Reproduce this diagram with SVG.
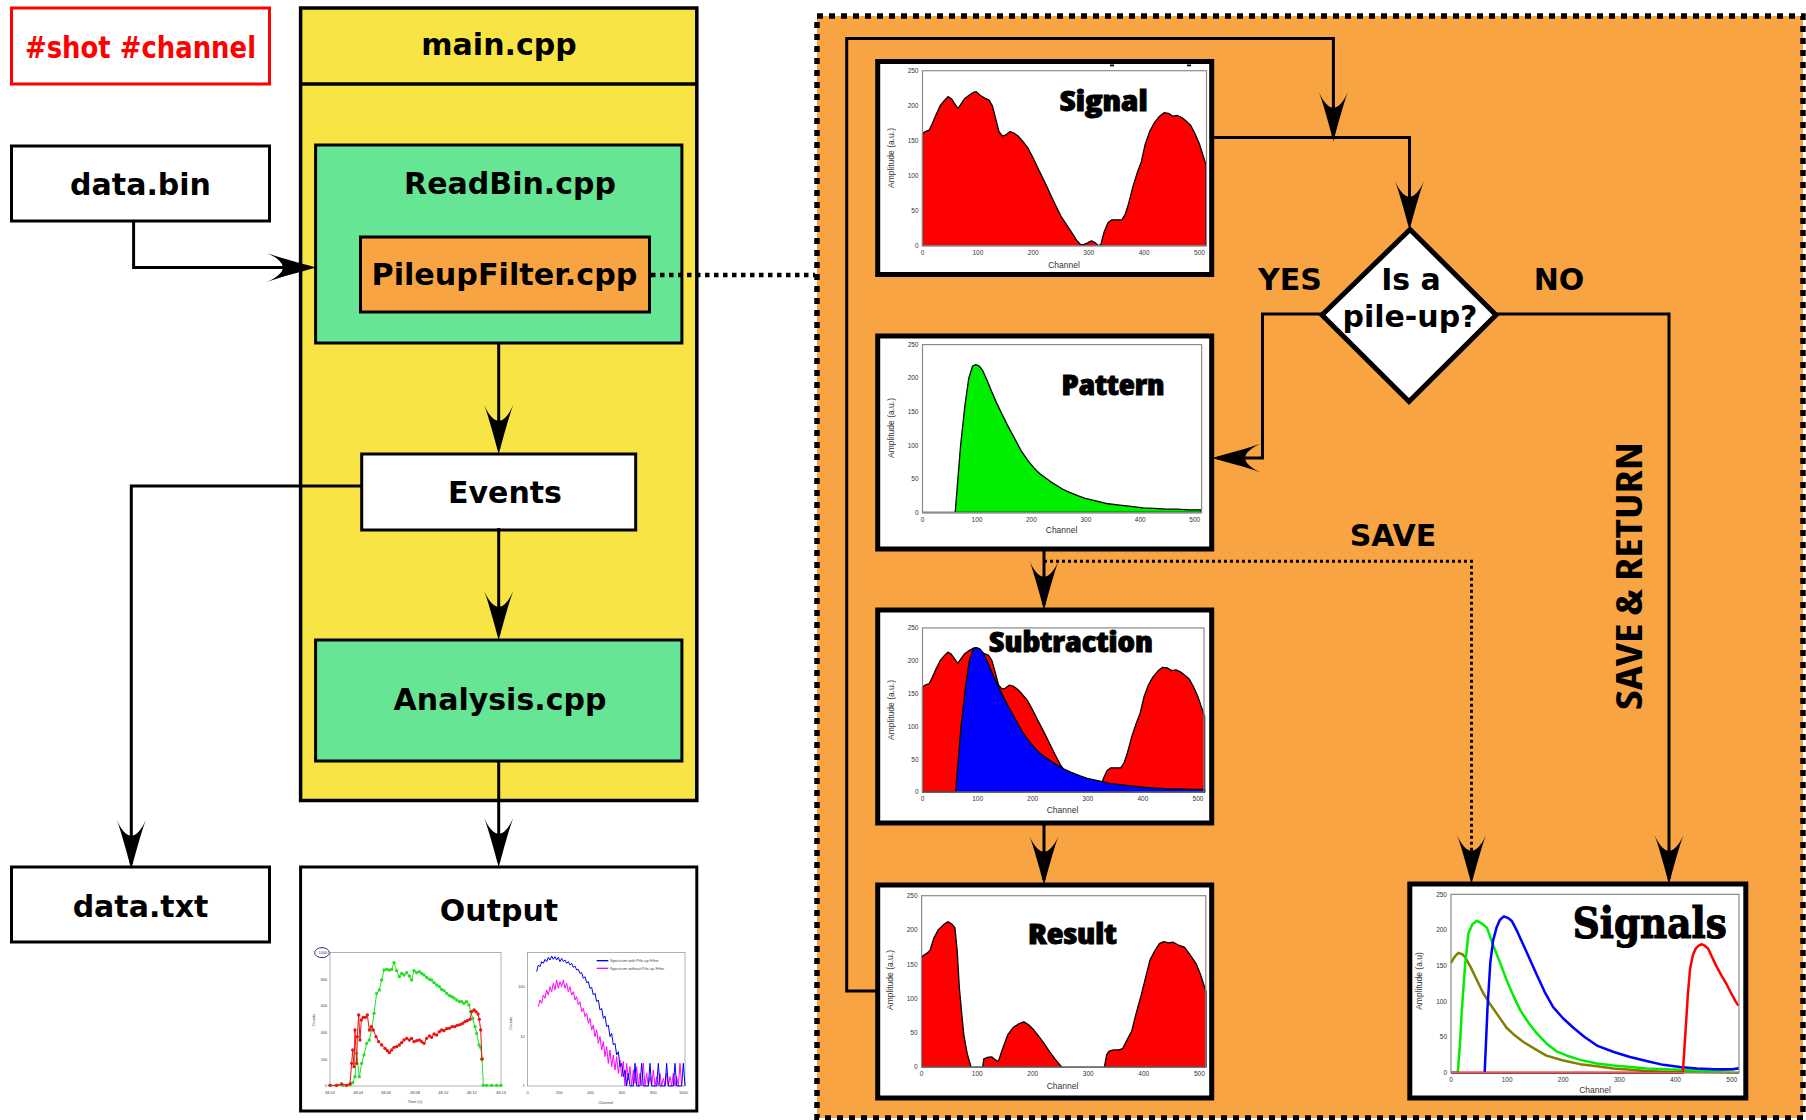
<svg xmlns="http://www.w3.org/2000/svg" width="1806" height="1120" viewBox="0 0 1806 1120">
<defs>
<marker id="ah" viewBox="-52 -16 58 32" refX="-5" refY="0" markerWidth="58" markerHeight="32" markerUnits="userSpaceOnUse" orient="auto">
<path d="M0,0 C-14,-4 -34,-9 -49,-14.5 C-28,-5 -28,5 -49,14.5 C-34,9 -14,4 0,0 Z" fill="#000"/>
</marker>
<marker id="dg" viewBox="-6 -6 12 12" refX="0" refY="0" markerWidth="12" markerHeight="12" markerUnits="userSpaceOnUse"><circle r="5" fill="#22e022"/></marker>
<marker id="dr" viewBox="-6 -6 12 12" refX="0" refY="0" markerWidth="12" markerHeight="12" markerUnits="userSpaceOnUse"><circle r="5" fill="#ee1111"/></marker>
<style>
.box{stroke:#000;stroke-width:3}
.lbl{font-family:"DejaVu Sans","Liberation Sans",sans-serif;font-weight:bold;font-size:30px;text-anchor:middle;fill:#000}
.conn{fill:none;stroke:#000;stroke-width:3}
.dot1{fill:none;stroke:#000;stroke-width:4.5;stroke-dasharray:4.5 4.5}
.dot2{fill:none;stroke:#000;stroke-width:3;stroke-dasharray:3 3}
.cbox{fill:#fff;stroke:#000;stroke-width:5}
.pf{fill:none;stroke:#8a8a8a;stroke-width:1.2}
.tk{font-family:"Liberation Sans",Arial,sans-serif;font-size:6.5px;fill:#333}
.tky{text-anchor:end}
.tkx{text-anchor:middle}
.ax{font-family:"Liberation Sans",Arial,sans-serif;font-size:8.5px;fill:#333;text-anchor:middle}
.area{stroke:#000;stroke-width:1.3;vector-effect:non-scaling-stroke;stroke-linejoin:round}
.ttl{font-family:"Open Sans","DejaVu Sans",sans-serif;font-weight:800;font-stretch:75%;font-size:28px;fill:#000;stroke:#000;stroke-width:0.8}
.ln{fill:none;stroke-width:2.5;vector-effect:non-scaling-stroke;stroke-linejoin:round}
.oln{fill:none;stroke-width:3;stroke-linejoin:round}
.otk{font-family:"Liberation Sans",Arial,sans-serif;font-size:12px;fill:#444}
</style>
</defs>
<rect x="0" y="0" width="1806" height="1120" fill="#fff"/>

<g id="tag">
<rect x="11.5" y="8" width="258" height="76" fill="#fff" stroke="#ff0000" stroke-width="3"/>
<text x="140.5" y="58" font-family="DejaVu Sans Condensed, DejaVu Sans, sans-serif" font-stretch="condensed" font-weight="bold" font-size="30" fill="#ff0000" text-anchor="middle" textLength="231" lengthAdjust="spacingAndGlyphs">#shot #channel</text>
</g>

<g id="data-bin">
<rect class="box" x="11.5" y="146" width="258" height="75" fill="#fff"/>
<text class="lbl" x="140.5" y="195">data.bin</text>
</g>

<g id="main">
<rect x="300.6" y="8" width="396.2" height="792.5" fill="#f8e444" stroke="#000" stroke-width="3.5"/>
<line x1="300.6" y1="84" x2="696.8" y2="84" stroke="#000" stroke-width="3.5"/>
<text class="lbl" x="499" y="55">main.cpp</text>
</g>

<g id="readbin">
<rect class="box" x="315.6" y="145" width="366.3" height="198" fill="#66e594"/>
<text class="lbl" x="510" y="194">ReadBin.cpp</text>
</g>

<g id="pileupfilter">
<rect class="box" x="360.5" y="237" width="289" height="75" fill="#f9a443"/>
<text class="lbl" x="504.5" y="285" textLength="266" lengthAdjust="spacingAndGlyphs">PileupFilter.cpp</text>
</g>

<g id="events">
<rect class="box" x="361.7" y="454" width="274" height="76" fill="#fff"/>
<text class="lbl" x="505" y="503">Events</text>
</g>

<g id="analysis">
<rect class="box" x="315.6" y="640" width="366.3" height="121" fill="#66e594"/>
<text class="lbl" x="500" y="710">Analysis.cpp</text>
</g>

<g id="data-txt">
<rect class="box" x="11.5" y="867" width="258" height="75" fill="#fff"/>
<text class="lbl" x="140.5" y="917">data.txt</text>
</g>

<g id="output">
<rect class="box" x="300.6" y="867" width="396.2" height="244" fill="#fff"/>
<text class="lbl" x="499" y="921">Output</text>
<g transform="translate(300,930) scale(0.33333)">
<rect x="90" y="68" width="513" height="400" fill="#fff" stroke="#888" stroke-width="2"/>
<g class="otk" text-anchor="end"><text x="82" y="472">0</text><text x="82" y="392">200</text><text x="82" y="312">400</text><text x="82" y="232">600</text><text x="82" y="152">800</text><text x="82" y="72">1000</text></g>
<ellipse cx="66" cy="68" rx="22" ry="15" fill="none" stroke="#2b2b8f" stroke-width="3"/>
<g class="otk" text-anchor="middle"><text x="90" y="492">48.02</text><text x="175" y="492">48.04</text><text x="258" y="492">48.06</text><text x="345" y="492">48.08</text><text x="430" y="492">48.10</text><text x="515" y="492">48.12</text><text x="603" y="492">48.14</text></g>
<text class="otk" x="345" y="518" text-anchor="middle" font-size="14">Time (s)</text>
<text class="otk" transform="translate(46,270) rotate(-90)" text-anchor="middle" font-size="14">Counts</text>
<polyline class="oln" stroke="#22e022" marker-start="url(#dg)" marker-mid="url(#dg)" marker-end="url(#dg)" points="90,466 110,466 130,466 150,464 158,458 165,440 170,370 178,440 185,400 192,375 200,340 208,330 215,300 222,250 230,190 238,180 245,150 252,120 260,118 268,120 275,118 282,98 290,122 298,140 305,130 312,135 320,128 328,138 335,150 342,122 350,128 358,125 365,130 372,135 380,142 388,148 395,150 402,158 410,165 418,170 425,178 432,182 440,190 448,196 455,200 462,204 470,210 478,215 485,215 492,220 500,215 507,225 512,245 518,265 525,290 530,310 537,345 542,352 546,385 550,466 560,466 575,466 590,466 603,466"/>
<polyline class="oln" stroke="#ee1111" marker-start="url(#dr)" marker-mid="url(#dr)" marker-end="url(#dr)" points="90,466 110,466 125,462 140,466 150,462 155,400 158,360 162,410 165,300 170,400 172,320 176,255 180,330 184,270 190,262 196,262 202,255 208,300 214,290 220,300 228,320 236,335 245,345 255,355 262,362 268,368 275,360 282,352 290,350 298,345 305,338 312,330 320,325 328,330 335,325 342,335 350,332 358,330 365,335 372,340 380,325 388,318 395,322 402,312 410,315 418,305 425,300 432,302 440,296 448,295 456,290 464,290 472,286 480,284 488,280 495,275 502,272 510,268 515,245 522,240 528,245 534,252 538,268 542,300 546,388"/>
<rect x="683" y="68" width="472" height="400" fill="none" stroke="#888" stroke-width="2"/>
<polyline class="oln" stroke="#ff00ff" stroke-width="2.5" points="715,230 720,210 725,220 730,195 735,205 740,180 745,195 750,170 755,185 760,160 765,180 770,150 775,175 780,155 785,170 790,150 795,175 800,160 805,185 810,170 815,195 820,185 825,210 830,200 835,225 840,215 845,245 850,235 855,260 860,250 865,280 870,265 875,300 880,285 885,320 890,300 895,340 900,320 905,360 910,335 915,380 920,350 925,400 930,360 935,410 940,375 945,420 950,380 955,430 960,390 965,440 970,395 975,468 980,400 985,450 990,410 995,468 1000,420 1005,460 1010,410 1015,468 1020,430 1025,468 1030,400 1035,468 1040,430 1045,468 1050,440 1055,468 1060,420 1065,468 1070,440 1075,468 1080,430 1085,468 1090,445 1095,468 1100,430 1105,468 1110,440 1115,468 1120,430 1125,468 1130,440 1135,468 1140,400 1145,468"/>
<polyline class="oln" stroke="#0000ee" stroke-width="3" points="710,125 715,105 720,110 725,95 730,100 735,88 740,95 745,82 750,90 755,78 760,88 765,80 770,90 775,82 780,95 785,85 790,95 795,90 800,100 805,95 810,105 815,100 820,112 825,108 830,120 835,118 840,130 845,128 850,145 855,140 860,158 865,155 870,175 875,172 880,195 885,190 890,215 895,210 900,240 905,235 910,265 915,258 920,290 925,285 930,320 935,310 940,345 945,340 950,375 955,365 960,410 965,400 970,440 975,420 980,468 985,430 990,468 1000,468 1005,400 1010,468 1020,468 1025,400 1030,468 1045,468 1050,400 1055,468 1070,468 1075,400 1080,468 1095,468 1100,400 1105,468 1120,468 1125,400 1130,468 1145,468 1150,400 1155,468"/>
<g class="otk" text-anchor="end"><text x="674" y="174">100</text><text x="674" y="324">10</text><text x="674" y="472">1</text></g>
<g class="otk" text-anchor="middle"><text x="683" y="492">0</text><text x="778" y="492">200</text><text x="872" y="492">400</text><text x="966" y="492">600</text><text x="1060" y="492">800</text><text x="1150" y="492">1000</text></g>
<text class="otk" x="917" y="522" text-anchor="middle" font-size="14">Channel</text>
<text class="otk" transform="translate(636,280) rotate(-90)" text-anchor="middle" font-size="14">Counts</text>
<line x1="890" y1="92" x2="925" y2="92" stroke="#0000ee" stroke-width="4"/>
<line x1="890" y1="115" x2="925" y2="115" stroke="#ff00ff" stroke-width="4"/>
<text class="otk" x="930" y="96" font-size="13">Spectrum with Pile-up Filter</text>
<text class="otk" x="930" y="119" font-size="13">Spectrum without Pile-up  Filter</text>
</g>
</g>

<g id="pileup-frame">
<rect x="817" y="16" width="986" height="1102" fill="#f9a443" stroke="#000" stroke-width="5.5" stroke-dasharray="6 6"/>
</g>

<g id="signal">
<rect class="cbox" x="877.7" y="61.5" width="334" height="213"/>
<g transform="translate(922.5,245.7) scale(0.554,-0.7)"><path class="area" fill="#ff0000" d="M0,0 L0,160 5,163 12,165 18,175 25,188 32,200 40,208 46,213 52,210 58,203 64,196 70,203 76,210 84,215 92,219 97,220 104,215 112,211 120,208 126,200 132,182 138,163 144,157 150,158 158,163 165,161 172,157 180,150 190,140 200,125 210,108 220,92 230,75 240,58 250,42 260,30 270,18 278,8 286,1 292,2 298,4 305,7 312,4 318,0 322,2 328,20 335,33 342,37 350,37 360,37 366,45 372,60 380,85 388,105 395,120 402,145 410,163 418,175 428,185 436,190 444,189 452,185 460,186 468,183 476,178 484,172 492,160 500,145 506,130 512,115 L512,0 Z"/></g>
<rect class="pf" x="922.5" y="70.7" width="284" height="175"/>
<rect x="1110" y="64.5" width="4" height="1.8"/><rect x="1187" y="64.5" width="4" height="1.8"/>
<g class="tk tky"><text x="918.5" y="248">0</text><text x="918.5" y="213">50</text><text x="918.5" y="178">100</text><text x="918.5" y="143">150</text><text x="918.5" y="108">200</text><text x="918.5" y="73">250</text></g>
<g class="tk tkx"><text x="922.5" y="254.7">0</text><text x="977.9" y="254.7">100</text><text x="1033.3" y="254.7">200</text><text x="1088.7" y="254.7">300</text><text x="1144.1" y="254.7">400</text><text x="1199.5" y="254.7">500</text></g>
<text class="ax" x="1064" y="267.5">Channel</text>
<text class="ax" transform="translate(894,158) rotate(-90)">Amplitude (a.u.)</text>
<text class="ttl" x="1059.7" y="110.7" textLength="88" lengthAdjust="spacingAndGlyphs">Signal</text>
</g>

<g id="pattern">
<rect class="cbox" x="877.7" y="336" width="334" height="213"/>
<g transform="translate(922.5,512.5) scale(0.5445,-0.672)"><path class="area" fill="#00ee00" d="M0,0 L60,0 64,40 70,100 78,160 85,200 92,218 98,220 104,218 110,212 118,198 126,182 135,165 145,148 156,130 168,112 181,92 193,78 205,66 215,58 225,52 235,46 245,41 257,35 270,30 285,25 299,21 320,17 341,13 362,11 383,9 405,7 426,6 447,5 468,5 490,4 512,4 L512,0 Z"/></g>
<rect class="pf" x="922.5" y="344.6" width="279.1" height="168"/>
<g class="tk tky"><text x="918.5" y="514.8">0</text><text x="918.5" y="481.2">50</text><text x="918.5" y="447.6">100</text><text x="918.5" y="414">150</text><text x="918.5" y="380.4">200</text><text x="918.5" y="346.8">250</text></g>
<g class="tk tkx"><text x="922.5" y="521.5">0</text><text x="977" y="521.5">100</text><text x="1031.4" y="521.5">200</text><text x="1085.9" y="521.5">300</text><text x="1140.3" y="521.5">400</text><text x="1194.8" y="521.5">500</text></g>
<text class="ax" x="1061.6" y="533">Channel</text>
<text class="ax" transform="translate(894,428) rotate(-90)">Amplitude (a.u.)</text>
<text class="ttl" x="1061.6" y="394.6" textLength="103" lengthAdjust="spacingAndGlyphs">Pattern</text>
</g>

<g id="subtraction">
<rect class="cbox" x="877.7" y="610" width="334" height="213"/>
<g transform="translate(922.5,792.1) scale(0.551,-0.657)">
<path class="area" fill="#ff0000" d="M0,0 L0,160 5,163 12,165 18,175 25,188 32,200 40,208 46,213 52,210 58,203 64,196 70,203 76,210 84,215 92,219 97,220 104,215 112,211 120,208 126,200 132,182 138,163 144,157 150,158 158,163 165,161 172,157 180,150 190,140 200,125 210,108 220,92 230,75 240,58 250,42 260,30 270,18 278,8 286,1 292,2 298,4 305,7 312,4 318,0 322,2 328,20 335,33 342,37 350,37 360,37 366,45 372,60 380,85 388,105 395,120 402,145 410,163 418,175 428,185 436,190 444,189 452,185 460,186 468,183 476,178 484,172 492,160 500,145 506,130 512,115 L512,0 Z"/>
<path class="area" fill="#0000ff" d="M0,0 L60,0 64,40 70,100 78,160 85,200 92,218 98,220 104,218 110,212 118,198 126,182 135,165 145,148 156,130 168,112 181,92 193,78 205,66 215,58 225,52 235,46 245,41 257,35 270,30 285,25 299,21 320,17 341,13 362,11 383,9 405,7 426,6 447,5 468,5 490,4 512,4 L512,0 Z"/>
</g>
<rect class="pf" x="922.5" y="627.9" width="281.5" height="164.2"/>
<g class="tk tky"><text x="918.5" y="794.4">0</text><text x="918.5" y="761.5">50</text><text x="918.5" y="728.7">100</text><text x="918.5" y="695.8">150</text><text x="918.5" y="663">200</text><text x="918.5" y="630.2">250</text></g>
<g class="tk tkx"><text x="922.5" y="801">0</text><text x="977.6" y="801">100</text><text x="1032.7" y="801">200</text><text x="1087.8" y="801">300</text><text x="1142.9" y="801">400</text><text x="1198" y="801">500</text></g>
<text class="ax" x="1062.5" y="813">Channel</text>
<text class="ax" transform="translate(894,710) rotate(-90)">Amplitude (a.u.)</text>
<text class="ttl" x="989" y="652" textLength="164" lengthAdjust="spacingAndGlyphs">Subtraction</text>
</g>

<g id="result">
<rect class="cbox" x="877.7" y="885" width="334" height="213"/>
<g transform="translate(921.6,1067.1) scale(0.5556,-0.686)"><path class="area" fill="#ff0000" d="M0,0 L0,161 8,165 15,170 22,188 30,200 40,208 47,212 55,208 60,203 64,170 68,115 72,80 76,47 82,20 89,0 110,0 112,12 118,14 126,15 132,11 138,8 145,25 155,47 165,58 175,63 184,66 192,62 200,56 210,46 220,35 230,23 240,12 248,4 253,0 329,0 333,18 337,23 345,25 355,25 362,27 370,40 378,52 386,78 395,104 403,130 411,156 420,170 428,180 436,183 444,181 453,182 462,178 473,175 482,165 494,151 502,135 510,115 512,110 L512,0 Z"/></g>
<rect class="pf" x="921.6" y="895.7" width="284.2" height="171.4"/>
<g class="tk tky"><text x="917.6" y="1069.4">0</text><text x="917.6" y="1035.1">50</text><text x="917.6" y="1000.8">100</text><text x="917.6" y="966.5">150</text><text x="917.6" y="932.2">200</text><text x="917.6" y="897.9">250</text></g>
<g class="tk tkx"><text x="921.6" y="1076">0</text><text x="977.2" y="1076">100</text><text x="1032.7" y="1076">200</text><text x="1088.3" y="1076">300</text><text x="1143.8" y="1076">400</text><text x="1199.4" y="1076">500</text></g>
<text class="ax" x="1062.5" y="1089">Channel</text>
<text class="ax" transform="translate(893,980) rotate(-90)">Amplitude (a.u.)</text>
<text class="ttl" x="1028" y="944" textLength="88.6" lengthAdjust="spacingAndGlyphs">Result</text>
</g>

<g id="signals">
<rect class="cbox" x="1409.8" y="884" width="336" height="214"/>
<g transform="translate(1451,1072.7) scale(0.5613,-0.7136)">
<polyline class="ln" stroke="#808000" points="0,154 6,162 13,168 20,166 25,162 35,148 46,130 57,112 69,97 84,80 99,63 114,52 129,43 150,33 170,24 200,17 230,12 260,9 289,6 320,4 349,2.5 380,1.5 408,1 450,0.5 513,0"/>
<polyline class="ln" stroke="#00ee00" points="0,0 12,0 16,40 19,84 25,150 31,195 38,208 46,213 55,209 64,203 70,190 75,179 87,155 99,130 111,108 123,88 138,70 153,55 170,41 188,30 210,23 230,18 260,13 289,10 320,8 349,6 380,5 408,4 440,3 467,3 490,4 505,5 513,7"/>
<polyline class="ln" stroke="#0000ff" points="60,0 65,90 70,154 75,185 81,203 87,214 94,219 101,217 108,213 118,198 129,179 141,158 153,137 167,113 182,92 200,76 218,63 238,50 260,38 290,29 319,22 350,16 378,11 408,8 438,6 470,5 500,5 513,6"/>
<polyline class="ln" stroke="#ff0000" points="0,0 413,0 418,60 422,110 426,146 431,165 436,174 441,178 447,180 452,178 458,174 465,162 473,149 482,136 491,124 500,110 507,100 512,94"/>
</g>
<rect class="pf" x="1451" y="894.3" width="288" height="178.4"/>
<g class="tk tky"><text x="1447" y="1075">0</text><text x="1447" y="1039.3">50</text><text x="1447" y="1003.7">100</text><text x="1447" y="968">150</text><text x="1447" y="932.4">200</text><text x="1447" y="896.6">250</text></g>
<g class="tk tkx"><text x="1451" y="1082">0</text><text x="1507.1" y="1082">100</text><text x="1563.3" y="1082">200</text><text x="1619.4" y="1082">300</text><text x="1675.5" y="1082">400</text><text x="1731.7" y="1082">500</text></g>
<text class="ax" x="1595" y="1093">Channel</text>
<text class="ax" transform="translate(1422,981) rotate(-90)">Amplitude (a.u)</text>
<text x="1572.7" y="938" font-family="DejaVu Serif, Liberation Serif, serif" font-weight="bold" font-size="42" fill="#000" stroke="#000" stroke-width="1.2" textLength="154" lengthAdjust="spacingAndGlyphs">Signals</text>
</g>

<g id="decision">
<polygon points="1410,229.5 1496,315 1409,401.5 1322,315" fill="#fff" stroke="#000" stroke-width="5" stroke-linejoin="miter"/>
<text class="lbl" x="1411" y="290">Is a</text>
<text class="lbl" x="1410" y="327">pile-up?</text>
</g>

<g id="connectors">
<path class="conn" d="M133.6,221 V267.5 H311" marker-end="url(#ah)"/>
<path class="conn" d="M498.7,343 V449" marker-end="url(#ah)"/>
<path class="conn" d="M498.7,528 V635" marker-end="url(#ah)"/>
<path class="conn" d="M498.7,761 V862" marker-end="url(#ah)"/>
<path class="conn" d="M361.7,486 H131.3 V864" marker-end="url(#ah)"/>
<path class="dot1" d="M651,275 H815"/>
<path class="conn" d="M877.7,991 H846.7 V38.6 H1333.4 V136" marker-end="url(#ah)"/>
<path class="conn" d="M1211.7,137.5 H1409.5 V225" marker-end="url(#ah)"/>
<path class="conn" d="M1322,314 H1262.5 V458 H1217" marker-end="url(#ah)"/>
<path class="conn" d="M1496,314 H1669 V879" marker-end="url(#ah)"/>
<path class="conn" d="M1044,549 V605" marker-end="url(#ah)"/>
<path class="dot2" d="M1044,561.3 H1471.5 V879" marker-end="url(#ah)"/>
<path class="conn" d="M1044,823 V880" marker-end="url(#ah)"/>
<text class="lbl" x="1290" y="290">YES</text>
<text class="lbl" x="1559" y="290">NO</text>
<text class="lbl" x="1393" y="546">SAVE</text>
<text transform="translate(1641.7,576) rotate(-90)" font-family="Open Sans, DejaVu Sans, sans-serif" font-weight="bold" font-stretch="75%" font-size="36" fill="#000" text-anchor="middle" textLength="268" lengthAdjust="spacingAndGlyphs">SAVE &amp; RETURN</text>
</g>
</svg>
